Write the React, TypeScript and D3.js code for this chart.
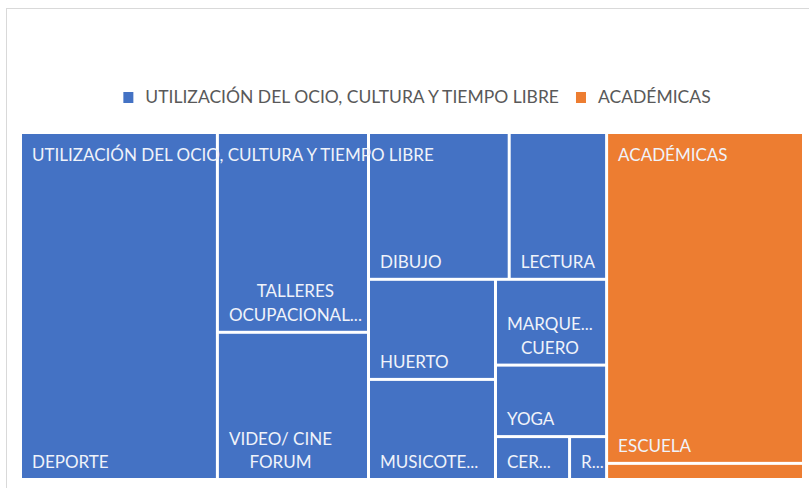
import React, { useEffect, useRef } from "react";
import * as d3 from "d3";

// top level categories
const groups = ["UTILIZACIÓN DEL OCIO, CULTURA Y TIEMPO LIBRE", "ACADÉMICAS"];
const groupColors = ["#4472C4", "#ED7D31"];

// activities inside "ocio"
const ocioActivities = [
    "DEPORTE",
    "TALLERES OCUPACIONALES",
    "VIDEO/ CINE FORUM",
    "DIBUJO",
    "LECTURA",
    "HUERTO",
    "MUSICOTERAPIA",
    "MARQUETERÍA CUERO",
    "YOGA",
    "CERÁMICA",
    "RELAJACIÓN",
];
const ocioValues = [43, 19, 14, 13, 9, 8, 8, 6, 5, 2, 1];
// labels as Excel shows them (wrapped / truncated)
const ocioLabels = [
    "DEPORTE",
    "TALLERES\nOCUPACIONAL...",
    "VIDEO/ CINE\nFORUM",
    "DIBUJO",
    "LECTURA",
    "HUERTO",
    "MUSICOTE...",
    "MARQUE...\nCUERO",
    "YOGA",
    "CER...",
    "R...",
];

// activities inside "académicas"
const academicActivities = ["ESCUELA", "UNIVERSIDAD"];
const academicValues = [41, 2];
const academicLabels = ["ESCUELA", ""];

const W = 809;
const H = 488;
const FONT = "Lato, 'Open Sans', sans-serif";

const App = () => {
    const svgRef = useRef<SVGSVGElement>(null);

    useEffect(() => {
        const svg = d3.select(svgRef.current);
        svg.selectAll("*").remove();

        // chart area frame (right and bottom edges fall outside the picture)
        svg.append("rect")
            .attr("x", 6.5)
            .attr("y", 8.5)
            .attr("width", W + 10)
            .attr("height", H + 10)
            .attr("fill", "#ffffff")
            .attr("stroke", "#d9d9d9");

        const data = {
            name: "root",
            children: [
                {
                    name: groups[0],
                    children: ocioActivities.map((n, i) => ({
                        name: n,
                        value: ocioValues[i],
                        label: ocioLabels[i],
                    })),
                },
                {
                    name: groups[1],
                    children: academicActivities.map((n, i) => ({
                        name: n,
                        value: academicValues[i],
                        label: academicLabels[i],
                    })),
                },
            ],
        };

        const root = d3
            .hierarchy<any>(data)
            .sum((d) => d.value || 0)
            .sort((a, b) => (b.value || 0) - (a.value || 0));

        const margin = { left: 22, top: 134, right: 7, bottom: 10 };
        d3
            .treemap<any>()
            .tile(d3.treemapSquarify.ratio(1))
            .size([W - margin.left - margin.right, H - margin.top - margin.bottom])
            .paddingInner(3)(root);

        const color = d3.scaleOrdinal<string, string>().domain(groups).range(groupColors);

        const g = svg.append("g").attr("transform", `translate(${margin.left},${margin.top})`);

        const leaves = g
            .selectAll("g.leaf")
            .data(root.leaves())
            .join("g")
            .attr("class", "leaf");

        leaves
            .append("rect")
            .attr("x", (d: any) => d.x0)
            .attr("y", (d: any) => d.y0)
            .attr("width", (d: any) => d.x1 - d.x0)
            .attr("height", (d: any) => d.y1 - d.y0)
            .attr("fill", (d: any) => color(d.parent.data.name));

        const fontSize = 17;
        const lineH = 23.5;
        const labelColor = "#f0f3fa";

        // leaf labels: bottom left, wrapped lines centred inside their block
        leaves.each(function (d: any) {
            const lines = (d.data.label || "").split("\n").filter((s: string) => s);
            if (!lines.length) return;
            const t = d3
                .select(this)
                .append("text")
                .attr("font-family", FONT)
                .attr("font-size", fontSize)
                .attr("fill", labelColor);
            const spans = lines.map((s: string, i: number) =>
                t
                    .append("tspan")
                    .attr("y", d.y1 - 10 - (lines.length - 1 - i) * lineH)
                    .text(s)
            );
            const widths = spans.map((s: any) => (s.node() as SVGTSpanElement).getComputedTextLength());
            const maxW = d3.max(widths) as number;
            spans.forEach((s: any, i: number) => {
                s.attr("x", d.x0 + 10 + (maxW - widths[i]) / 2);
            });
        });

        // group banner labels
        g.selectAll("text.group")
            .data(root.children || [])
            .join("text")
            .attr("class", "group")
            .attr("x", (d: any) => d.x0 + 10)
            .attr("y", (d: any) => d.y0 + 27)
            .attr("font-family", FONT)
            .attr("font-size", fontSize)
            .attr("fill", labelColor)
            .text((d: any) => d.data.name);

        // legend
        const legend = svg.append("g");
        let cx = 0;
        groups.forEach((name, i) => {
            const item = legend.append("g").attr("transform", `translate(${cx},0)`);
            item.append("rect")
                .attr("x", 0)
                .attr("y", -11)
                .attr("width", 10)
                .attr("height", 11)
                .attr("fill", groupColors[i]);
            const txt = item
                .append("text")
                .attr("x", 22)
                .attr("y", 0)
                .attr("font-family", FONT)
                .attr("font-size", 17.5)
                .attr("fill", "#595959")
                .text(name);
            cx += 22 + (txt.node() as SVGTextElement).getComputedTextLength() + 17;
        });
        const legendW = cx - 17;
        legend.attr("transform", `translate(${417 - legendW / 2},103)`);
    }, []);

    return (
        <svg
            ref={svgRef}
            width={W}
            height={H}
            style={{ position: "absolute", left: 0, top: 0 }}
        ></svg>
    );
};

export default App;
